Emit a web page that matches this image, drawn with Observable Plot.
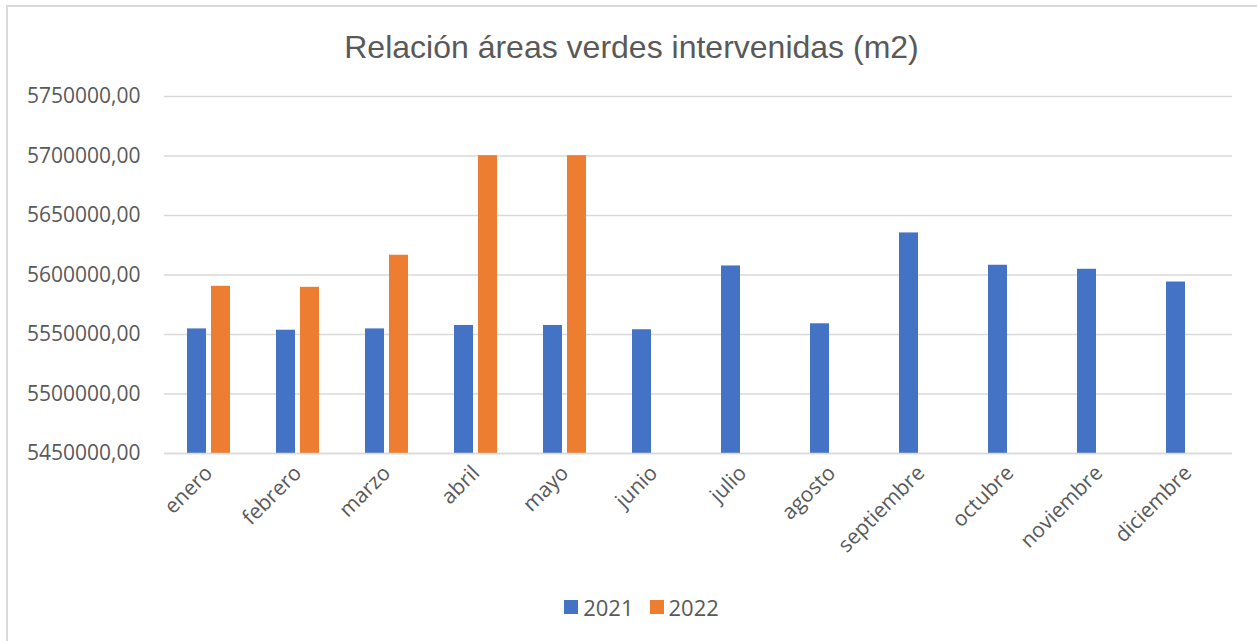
<!DOCTYPE html>
<html>
<head>
<meta charset="utf-8">
<script src="https://cdn.jsdelivr.net/npm/d3@7"></script>
<script src="https://cdn.jsdelivr.net/npm/@observablehq/plot@0.6"></script>
<style>
  html, body { margin: 0; padding: 0; background: #fff; }
  body { width: 1257px; height: 641px; overflow: hidden; position: relative; font-family: "Open Sans", "Noto Sans", sans-serif; }
  #frame { position: absolute; left: 6px; top: 5px; width: 1260px; height: 650px; border-top: 2px solid #d9d9d9; border-left: 2px solid #d9d9d9; box-sizing: border-box; }
  #title { position: absolute; left: 3px; top: 29px; width: 1257px; text-align: center; font-family: "Liberation Sans", Arial, sans-serif; font-size: 32px; color: #595959; }
  #chart { position: absolute; left: 0; top: 80px; }
  #legend { position: absolute; left: 13px; top: 592px; width: 1257px; display: flex; justify-content: center; align-items: center; font-size: 22px; color: #595959; }
  .sw { display: inline-block; width: 14px; height: 14px; margin-right: 5px; }
  .item { display: flex; align-items: center; margin: 0 8px; }
</style>
</head>
<body>
<div id="frame"></div>
<div id="title">Relación áreas verdes intervenidas (m2)</div>
<div id="chart"></div>
<div id="legend"></div>
<script>
const months = ["enero","febrero","marzo","abril","mayo","junio","julio","agosto","septiembre","octubre","noviembre","diciembre"];
const series = ["2021","2022"];
const values2021 = [5554700, 5553600, 5554700, 5557600, 5557600, 5554000, 5607600, 5559000, 5635350, 5608200, 5604800, 5594100];
const values2022 = [5590500, 5589650, 5616600, 5700300, 5700300, null, null, null, null, null, null, null];
const yTicks = [5450000, 5500000, 5550000, 5600000, 5650000, 5700000, 5750000];
const colors = ["#4472C4", "#ED7D31"];

const data = [];
months.forEach((m, i) => {
  data.push({month: m, year: series[0], value: values2021[i]});
  if (values2022[i] != null) data.push({month: m, year: series[1], value: values2022[i]});
});

const fmt = d => d3.format(".2f")(d).replace(".", ",");

const plot = Plot.plot({
  width: 1257,
  height: 500,
  marginTop: 16,
  marginBottom: 127,
  marginLeft: 162,
  marginRight: 24,
  style: {fontFamily: "'Open Sans', 'Noto Sans', sans-serif", fontSize: "21px", color: "#595959", background: "transparent"},
  fx: {domain: months, padding: 0, label: null, tickRotate: -45, tickSize: 0, tickPadding: 16},
  x: {domain: series, paddingInner: 0.2, paddingOuter: 0.885, axis: null},
  y: {domain: [5450000, 5750000], ticks: yTicks, tickFormat: fmt, label: null, tickSize: 0, tickPadding: 24},
  color: {domain: series, range: colors},
  marks: [
    Plot.gridY(yTicks, {stroke: "#d9d9d9", strokeOpacity: 1, strokeWidth: 1.5, facet: "exclude"}),
    Plot.axisY({ticks: yTicks, tickFormat: fmt, tickSize: 0, tickPadding: 24, label: null, fontSize: 21}),
    Plot.barY(data, {fx: "month", x: "year", y1: 5450000, y2: "value", fill: "year"}),
    Plot.ruleY([5450000], {stroke: "#d9d9d9", strokeWidth: 1.5})
  ]
});
document.getElementById("chart").appendChild(plot);

const legend = document.getElementById("legend");
series.forEach((s, i) => {
  const it = document.createElement("div");
  it.className = "item";
  it.innerHTML = `<span class="sw" style="background:${colors[i]}"></span><span>${s}</span>`;
  legend.appendChild(it);
});
</script>
</body>
</html>
